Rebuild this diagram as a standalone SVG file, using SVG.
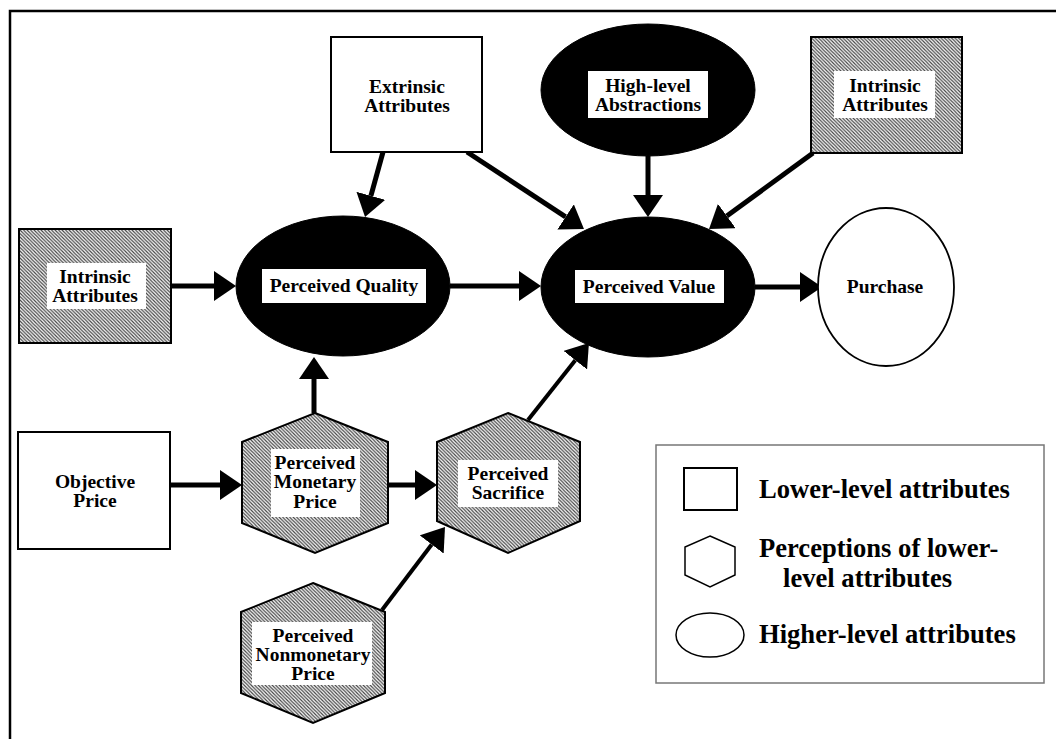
<svg xmlns="http://www.w3.org/2000/svg" width="1056" height="739" viewBox="0 0 1056 739">
<style>
.lbl{font-family:"Liberation Serif","Times New Roman",serif;font-weight:bold;font-size:19.5px;text-anchor:middle;fill:#000}
.leg{font-family:"Liberation Serif","Times New Roman",serif;font-weight:bold;font-size:26.6px;fill:#000}
.box{fill:#fff;stroke:#000;stroke-width:2}
.hat{fill:url(#hatch);stroke:#000;stroke-width:2}
.blk{fill:#000;stroke:#000;stroke-width:1}
.inner{fill:#fff;stroke:none}
.con{stroke:#000;stroke-width:5;fill:none;marker-end:url(#ah)}
.thin{stroke-width:4}
</style>
<defs>
<pattern id="hatch" patternUnits="userSpaceOnUse" width="3.5" height="3.5">
<rect width="3.5" height="3.5" fill="#fff"/>
<path d="M-1,-1 L4.5,4.5 M2.5,-1 L4.5,1 M-1,2.5 L1,4.5" stroke="#444" stroke-width="1.2"/>
</pattern>
<marker id="ah" markerUnits="userSpaceOnUse" markerWidth="22" markerHeight="30" viewBox="0 0 22 30" refX="0" refY="15" orient="auto">
<path d="M0,0 L22,15 L0,30 z" fill="#000"/>
</marker>
</defs>
<rect width="1056" height="739" fill="#fff"/>
<path d="M10,739 L10,11 L1056,11" fill="none" stroke="#000" stroke-width="2.5"/>

<g id="connectors">
<line class="con" x1="171" y1="286" x2="214" y2="286"/>
<line class="con" x1="383" y1="152" x2="370.9" y2="195.8"/>
<line class="con" x1="450" y1="286" x2="519" y2="286"/>
<line class="con" x1="467" y1="152" x2="565.6" y2="216.9"/>
<line class="con" x1="648" y1="156" x2="648" y2="195"/>
<line class="con" x1="813" y1="153" x2="726.8" y2="216"/>
<line class="con" x1="755" y1="287" x2="800" y2="287"/>
<line class="con" x1="314" y1="413" x2="314" y2="379"/>
<line class="con" x1="170" y1="485" x2="220" y2="485"/>
<line class="con" x1="388" y1="485" x2="415" y2="485"/>
<line class="con thin" x1="528" y1="420" x2="575.3" y2="360.2"/>
<line class="con thin" x1="382" y1="610" x2="431.7" y2="544.5"/>
</g>

<g id="extrinsic">
<rect class="box" x="331" y="37" width="151" height="115"/>
<text class="lbl" x="407" y="93">Extrinsic</text>
<text class="lbl" x="407" y="112">Attributes</text>
</g>

<g id="high-level">
<ellipse class="blk" cx="648" cy="90" rx="107" ry="66"/>
<rect class="inner" x="588" y="71" width="120" height="47"/>
<text class="lbl" x="648" y="92">High-level</text>
<text class="lbl" x="648" y="111">Abstractions</text>
</g>

<g id="intrinsic-right">
<rect class="hat" x="811" y="37" width="151" height="116"/>
<rect class="inner" x="834" y="71" width="101" height="47"/>
<text class="lbl" x="885" y="92">Intrinsic</text>
<text class="lbl" x="885" y="111">Attributes</text>
</g>

<g id="intrinsic-left">
<rect class="hat" x="19" y="229" width="152" height="114"/>
<rect class="inner" x="47" y="263" width="99" height="46"/>
<text class="lbl" x="95" y="283">Intrinsic</text>
<text class="lbl" x="95" y="302">Attributes</text>
</g>

<g id="perceived-quality">
<ellipse class="blk" cx="343" cy="286" rx="107" ry="70"/>
<rect class="inner" x="262" y="269" width="164" height="34"/>
<text class="lbl" x="344" y="292">Perceived Quality</text>
</g>

<g id="perceived-value">
<ellipse class="blk" cx="648" cy="287" rx="107" ry="70"/>
<rect class="inner" x="575" y="270" width="149" height="33"/>
<text class="lbl" x="649" y="293">Perceived Value</text>
</g>

<g id="purchase">
<ellipse cx="886" cy="287" rx="68" ry="79" fill="#fff" stroke="#000" stroke-width="1.8"/>
<text class="lbl" x="885" y="293">Purchase</text>
</g>

<g id="objective-price">
<rect class="box" x="18" y="432" width="152" height="117"/>
<text class="lbl" x="95" y="488">Objective</text>
<text class="lbl" x="95" y="507">Price</text>
</g>

<g id="monetary-price">
<polygon class="hat" points="315,413 388,442 388,523 315,553 242,523 242,442"/>
<rect class="inner" x="271" y="449" width="89" height="68"/>
<text class="lbl" x="315" y="469">Perceived</text>
<text class="lbl" x="315" y="488">Monetary</text>
<text class="lbl" x="315" y="508">Price</text>
</g>

<g id="sacrifice">
<polygon class="hat" points="508,413 580,442 580,521 508,553 437,521 437,442"/>
<rect class="inner" x="458" y="460" width="100" height="47"/>
<text class="lbl" x="508" y="480">Perceived</text>
<text class="lbl" x="508" y="499">Sacrifice</text>
</g>

<g id="nonmonetary-price">
<polygon class="hat" points="313,583 385,612 385,693 313,723 241,693 241,612"/>
<rect class="inner" x="252" y="622" width="120" height="63"/>
<text class="lbl" x="313" y="642">Perceived</text>
<text class="lbl" x="313" y="661">Nonmonetary</text>
<text class="lbl" x="313" y="680">Price</text>
</g>

<g id="legend">
<rect x="656" y="445" width="388" height="238" fill="#fff" stroke="#777" stroke-width="1.5"/>
<rect x="684" y="468" width="53" height="42" fill="#fff" stroke="#000" stroke-width="2"/>
<text class="leg" x="759" y="498">Lower-level attributes</text>
<polygon points="710,536 735,547 735,575 710,587 685,575 685,547" fill="#fff" stroke="#000" stroke-width="1.5"/>
<text class="leg" x="759" y="557">Perceptions of lower-</text>
<text class="leg" x="783" y="587">level attributes</text>
<ellipse cx="710" cy="635" rx="34" ry="22" fill="#fff" stroke="#000" stroke-width="1.5"/>
<text class="leg" x="759" y="643">Higher-level attributes</text>
</g>
</svg>
